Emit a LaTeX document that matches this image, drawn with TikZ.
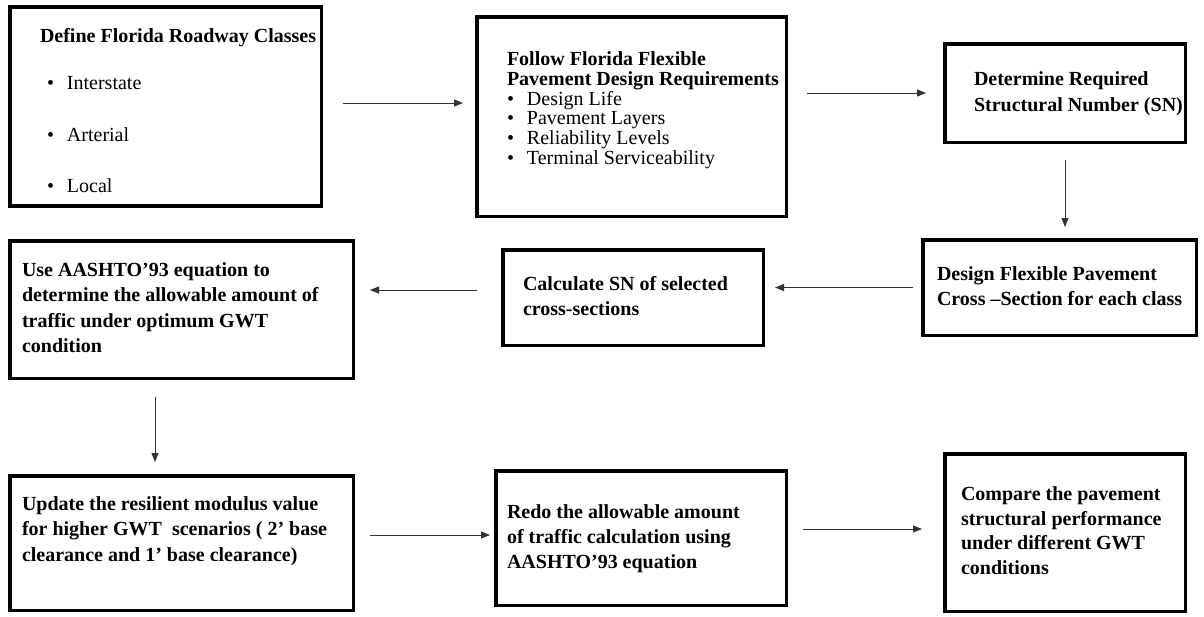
\documentclass[tikz,border=0pt]{standalone}
\usepackage{fontspec}
\setmainfont{Liberation Serif}
\usepackage{tikz}
\usetikzlibrary{positioning,calc,arrows.meta}

\newcommand{\boxtext}[2]{\makebox[#1][l]{\begin{tabular}{@{}l@{}}#2\end{tabular}}}
\newcommand{\bul}[1]{{\mdseries\makebox[20pt][l]{\textbullet}#1}}

\begin{document}
\begin{tikzpicture}[x=1pt, y=1pt,
    flowbox/.style={draw, line width=3.5pt, inner sep=0pt, outer sep=0pt, font=\fontsize{20}{#1}\selectfont\bfseries},
    flowbox/.default=24,
    flow/.style={-{Triangle[length=9pt,width=7pt]}, line width=0.8pt, black!80}]
    \useasboundingbox (0,0) rectangle (1204,-616);

    % Top row
    \node[flowbox, minimum width=311.5pt, minimum height=199pt] (classes) at (165.5,-106.5)
        {\boxtext{251pt}{\rule{0pt}{30pt}Define Florida Roadway Classes\\[23pt]
         \hspace{7pt}\bul{Interstate}\\[28pt]
         \hspace{7pt}\bul{Arterial}\\[27pt]
         \hspace{7pt}\bul{Local}}};
    \node[flowbox=19.5, minimum width=309.5pt, minimum height=199.5pt] (require) at (631.5,-116.5)
        {\boxtext{249pt}{Follow Florida Flexible\\ Pavement Design Requirements\\
         \bul{Design Life}\\ \bul{Pavement Layers}\\ \bul{Reliability Levels}\\
         \bul{Terminal Serviceability}\\[11pt]}};
    \node[flowbox=26, minimum width=240.5pt, minimum height=98.5pt] (snreq) at (1065,-93)
        {\boxtext{182pt}{Determine Required\\ Structural Number (SN)}};

    % Middle row
    \node[flowbox=25, minimum width=273.5pt, minimum height=95.5pt] (design) at (1059.5,-287.5)
        {\boxtext{245pt}{Design Flexible Pavement\\ Cross –Section for each class}};
    \node[flowbox=25, minimum width=260.5pt, minimum height=95.5pt] (calc) at (633,-297.5)
        {\boxtext{220pt}{Calculate SN of selected\\ cross-sections}};
    \node[flowbox=25.5, minimum width=343.5pt, minimum height=137.5pt] (allow) at (181.5,-309.5)
        {\boxtext{319pt}{Use AASHTO’93 equation to\\ determine the allowable amount of\\
         traffic under optimum GWT\\ condition}};

    % Bottom row
    \node[flowbox=25.5, minimum width=343.5pt, minimum height=134.5pt] (update) at (181.5,-543)
        {\boxtext{319pt}{Update the resilient modulus value\\ for higher GWT~ scenarios ( 2’ base\\
         clearance and 1’ base clearance)\\[25pt]}};
    \node[flowbox=25, minimum width=290.5pt, minimum height=134.5pt] (redo) at (641,-538)
        {\boxtext{268pt}{Redo the allowable amount\\ of traffic calculation using\\ AASHTO’93 equation}};
    \node[flowbox=24.5, minimum width=240.5pt, minimum height=157.5pt] (compare) at (1065,-532.5)
        {\boxtext{208pt}{Compare the pavement\\ structural performance\\ under different GWT\\ conditions}};

    % Connectors
    \draw[flow, shorten <=21.75pt, shorten >=13.75pt] ([yshift=3.5pt]classes.east) -- ([yshift=3.5pt]classes.east -| require.west);
    \draw[flow, shorten <=20.75pt, shorten >=18.75pt] (require.east |- snreq.west) -- (snreq.west);
    \draw[flow, shorten <=17.75pt, shorten >=12.75pt] (snreq.south) -- (snreq.south |- design.north);
    \draw[flow, shorten <=9.75pt, shorten >=11.75pt] (design.west) -- (design.west -| calc.east);
    \draw[flow, shorten <=25.75pt, shorten >=16.75pt] ([yshift=7.5pt]calc.west) -- ([yshift=7.5pt]calc.west -| allow.east);
    \draw[flow, shorten <=18.75pt, shorten >=13.75pt] ([xshift=-26.5pt]allow.south) -- ([xshift=-26.5pt]allow.south |- update.north);
    \draw[flow, shorten <=16.75pt, shorten >=5.75pt] ([yshift=8pt]update.east) -- ([yshift=8pt]update.east -| redo.west);
    \draw[flow, shorten <=16.75pt, shorten >=22.75pt] ([yshift=9pt]redo.east) -- ([yshift=9pt]redo.east -| compare.west);
\end{tikzpicture}
\end{document}
